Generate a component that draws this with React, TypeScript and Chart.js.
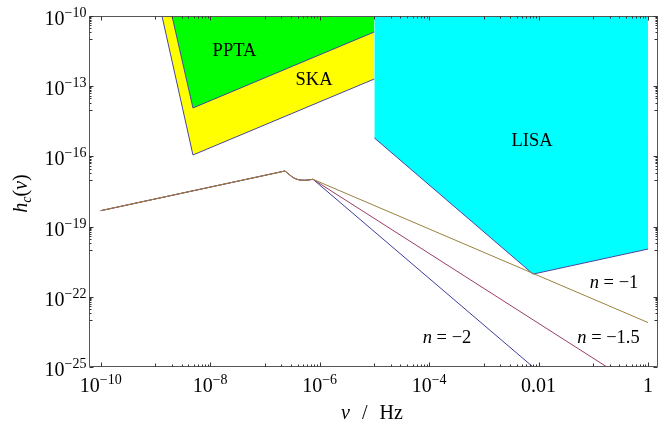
import React, { useEffect, useRef } from "react";
import { Chart, registerables } from "chart.js";

Chart.register(...registerables);

// ---- data (frequency in Hz, characteristic strain h_c) ----
const sourceNu = [1e-10, 2.33e-7, 2.64e-7, 3.0e-7, 3.4e-7, 3.86e-7, 4.38e-7, 5.19e-7, 6.14e-7, 7.57e-7];
const sourceH = [4.79e-19, 2.38e-17, 1.86e-17, 1.45e-17, 1.19e-17, 1.05e-17, 9.79e-18, 9.53e-18, 9.79e-18, 1.05e-17];

const tailNuN1 = [1];
const tailHN1 = [7.95e-24];
const tailNuN15 = [0.178];
const tailHN15 = [1e-25];
const tailNuN2 = [7.94e-3];
const tailHN2 = [1e-25];

const skaNu = [1.318e-9, 4.85e-9, 1e-5];
const skaH = [1e-10, 1.148e-16, 2.04e-13];
const pptaNu = [2.01e-9, 4.85e-9, 1e-5];
const pptaH = [1e-10, 1.175e-14, 2.09e-11];
const lisaNu = [1e-5, 7.94e-3, 1];
const lisaH = [6.17e-16, 9.33e-22, 1.096e-20];

const xMajorTicks = [1e-10, 1e-8, 1e-6, 1e-4, 1e-2, 1];
const xTickLabels = ["10^\u221210", "10^\u22128", "10^\u22126", "10^\u22124", "0.01", "1"];
const yMajorTicks = [1e-10, 1e-13, 1e-16, 1e-19, 1e-22, 1e-25];
const yTickLabels = ["10^\u221210", "10^\u221213", "10^\u221216", "10^\u221219", "10^\u221222", "10^\u221225"];

const X_MIN = 6.11e-11;
const X_MAX = 1.524;
const Y_MIN = 1e-25;
const Y_MAX = 1e-10;

const NAVY = "rgb(61,61,153)";
const MAGENTA = "rgb(153,61,107)";
const OLIVE = "rgb(153,128,61)";
const EDGE = "rgb(70,70,165)";
const FONT = '"Liberation Serif", "Times New Roman", Times, serif';

const pts = (xs: number[], ys: number[]) => xs.map((x, i) => ({ x, y: ys[i] }));

type Seg = { t: string; size: number; italic?: boolean; dy?: number };

function drawSegs(ctx: CanvasRenderingContext2D, segs: Seg[], x: number, y: number, align: "left" | "center" | "right") {
  let total = 0;
  const widths = segs.map((s) => {
    ctx.font = `${s.italic ? "italic " : ""}${s.size}px ${FONT}`;
    const w = ctx.measureText(s.t).width;
    total += w;
    return w;
  });
  let cx = align === "left" ? x : align === "center" ? x - total / 2 : x - total;
  ctx.textAlign = "left";
  ctx.textBaseline = "alphabetic";
  segs.forEach((s, i) => {
    ctx.font = `${s.italic ? "italic " : ""}${s.size}px ${FONT}`;
    ctx.fillText(s.t, cx, y + (s.dy || 0));
    cx += widths[i];
  });
}

function labelSegs(label: string): Seg[] {
  const i = label.indexOf("^");
  if (i < 0) return [{ t: label, size: 20 }];
  return [
    { t: label.slice(0, i), size: 20 },
    { t: label.slice(i + 1), size: 14, dy: -8 },
  ];
}

const framePlugin = {
  id: "framePlugin",
  afterDatasetsDraw(chart: any) {
    const ctx: CanvasRenderingContext2D = chart.ctx;
    const xs = chart.scales.x;
    const ys = chart.scales.y;
    const { left, right, top, bottom } = chart.chartArea;
    ctx.save();
    ctx.fillStyle = "#000";
    // annotations
    drawSegs(ctx, [{ t: "PPTA", size: 18.5 }], 234.5, 56, "center");
    drawSegs(ctx, [{ t: "SKA", size: 18.5 }], 314, 85, "center");
    drawSegs(ctx, [{ t: "LISA", size: 18.5 }], 532, 145.5, "center");
    drawSegs(ctx, [{ t: "n", size: 18.5, italic: true }, { t: " = \u22121", size: 18.5 }], 614, 288, "center");
    drawSegs(ctx, [{ t: "n", size: 18.5, italic: true }, { t: " = \u22122", size: 18.5 }], 447, 343, "center");
    drawSegs(ctx, [{ t: "n", size: 18.5, italic: true }, { t: " = \u22121.5", size: 18.5 }], 608.5, 343, "center");

    // frame
    const L = Math.round(left) + 0.5;
    const R = Math.round(right) - 0.5;
    const T = Math.round(top) + 0.5;
    const B = Math.round(bottom) - 0.5;
    ctx.strokeStyle = "#555";
    ctx.lineWidth = 1;
    ctx.beginPath();
    ctx.rect(L, T, R - L, B - T);
    ctx.stroke();

    // ticks
    const tick = (px: number, len: number, horizontalAxis: boolean) => {
      ctx.beginPath();
      if (horizontalAxis) {
        const p = Math.round(px) + 0.5;
        ctx.moveTo(p, B);
        ctx.lineTo(p, B - len);
        ctx.moveTo(p, T);
        ctx.lineTo(p, T + len);
      } else {
        const p = Math.round(px) + 0.5;
        ctx.moveTo(L, p);
        ctx.lineTo(L + len, p);
        ctx.moveTo(R, p);
        ctx.lineTo(R - len, p);
      }
      ctx.stroke();
    };
    ctx.strokeStyle = "#333";
    xMajorTicks.forEach((v, i) => {
      tick(xs.getPixelForValue(v), 4, true);
      if (i > 0) {
        for (let k = 1; k <= 9; k++) {
          const mv = (v / 10) * k;
          tick(xs.getPixelForValue(mv), k === 1 ? 3 : 2, true);
        }
      }
    });
    yMajorTicks.forEach((v, i) => {
      tick(ys.getPixelForValue(v), 4, false);
      if (i < yMajorTicks.length - 1) {
        for (let k = 1; k <= 9; k++) {
          const mv = (v / 10) * k;
          tick(ys.getPixelForValue(mv), k === 1 ? 3 : 2, false);
        }
      }
    });

    // tick labels
    ctx.fillStyle = "#000";
    xMajorTicks.forEach((v, i) => {
      drawSegs(ctx, labelSegs(xTickLabels[i]), xs.getPixelForValue(v), 392, "center");
    });
    yMajorTicks.forEach((v, i) => {
      drawSegs(ctx, labelSegs(yTickLabels[i]), 86.5, ys.getPixelForValue(v) + 9, "right");
    });

    // axis titles
    const gap = 12;
    ctx.font = `italic 20px ${FONT}`;
    const wNu = ctx.measureText("\u03bd").width;
    ctx.font = `20px ${FONT}`;
    const wSl = ctx.measureText("/").width;
    const wHz = ctx.measureText("Hz").width;
    const totalW = wNu + gap + wSl + gap + wHz;
    let cx = 372 - totalW / 2;
    ctx.textAlign = "left";
    ctx.textBaseline = "alphabetic";
    ctx.font = `italic 20px ${FONT}`;
    ctx.fillText("\u03bd", cx, 419);
    cx += wNu + gap;
    ctx.font = `20px ${FONT}`;
    ctx.fillText("/", cx, 419);
    cx += wSl + gap;
    ctx.fillText("Hz", cx, 419);

    ctx.save();
    ctx.translate(27, 193.5);
    ctx.rotate(-Math.PI / 2);
    drawSegs(
      ctx,
      [
        { t: "h", size: 20, italic: true },
        { t: "c", size: 14, italic: true, dy: 4 },
        { t: "(", size: 20 },
        { t: "\u03bd", size: 20, italic: true },
        { t: ")", size: 20 },
      ],
      0,
      0,
      "center"
    );
    ctx.restore();
    ctx.restore();
  },
};

export default function App() {
  const ref = useRef<HTMLCanvasElement | null>(null);
  useEffect(() => {
    if (!ref.current) return;
    const srcPts = pts(sourceNu, sourceH);
    const chart = new Chart(ref.current, {
      type: "line",
      data: {
        datasets: [
          {
            label: "SKA",
            data: pts(skaNu, skaH),
            borderColor: EDGE,
            borderWidth: 1,
            backgroundColor: "#ffff00",
            fill: "end",
            pointRadius: 0,
            order: 10,
          },
          {
            label: "PPTA",
            data: pts(pptaNu, pptaH),
            borderColor: EDGE,
            borderWidth: 1,
            backgroundColor: "#00ff00",
            fill: "end",
            pointRadius: 0,
            order: 9,
          },
          {
            label: "LISA",
            data: pts(lisaNu, lisaH),
            borderColor: EDGE,
            borderWidth: 1,
            backgroundColor: "#00ffff",
            fill: "end",
            pointRadius: 0,
            order: 8,
          },
          {
            label: "n = -2",
            data: [...srcPts, ...pts(tailNuN2, tailHN2)],
            borderColor: NAVY,
            borderWidth: 1,
            fill: false,
            pointRadius: 0,
            order: 3,
          },
          {
            label: "n = -1.5",
            data: [...srcPts, ...pts(tailNuN15, tailHN15)],
            borderColor: MAGENTA,
            borderWidth: 1,
            fill: false,
            pointRadius: 0,
            order: 2,
          },
          {
            label: "n = -1",
            data: [...srcPts, ...pts(tailNuN1, tailHN1)],
            borderColor: OLIVE,
            borderWidth: 1,
            fill: false,
            pointRadius: 0,
            order: 1,
          },
        ],
      },
      options: {
        animation: false,
        responsive: false,
        devicePixelRatio: 1,
        layout: { padding: { left: 0, right: 9, top: 16, bottom: 0 } },
        plugins: { legend: { display: false }, tooltip: { enabled: false } },
        scales: {
          x: {
            type: "logarithmic",
            min: X_MIN,
            max: X_MAX,
            grid: { display: false },
            border: { display: false },
            ticks: { display: false },
            afterFit: (s: any) => {
              s.height = 57;
            },
          },
          y: {
            type: "logarithmic",
            min: Y_MIN,
            max: Y_MAX,
            grid: { display: false },
            border: { display: false },
            ticks: { display: false },
            afterFit: (s: any) => {
              s.width = 89;
            },
          },
        },
      },
      plugins: [framePlugin],
    } as any);
    return () => chart.destroy();
  }, []);
  return (
    <div style={{ position: "absolute", left: 0, top: 0, width: 667, height: 424, background: "#fff" }}>
      <canvas ref={ref} width={667} height={424} />
    </div>
  );
}
